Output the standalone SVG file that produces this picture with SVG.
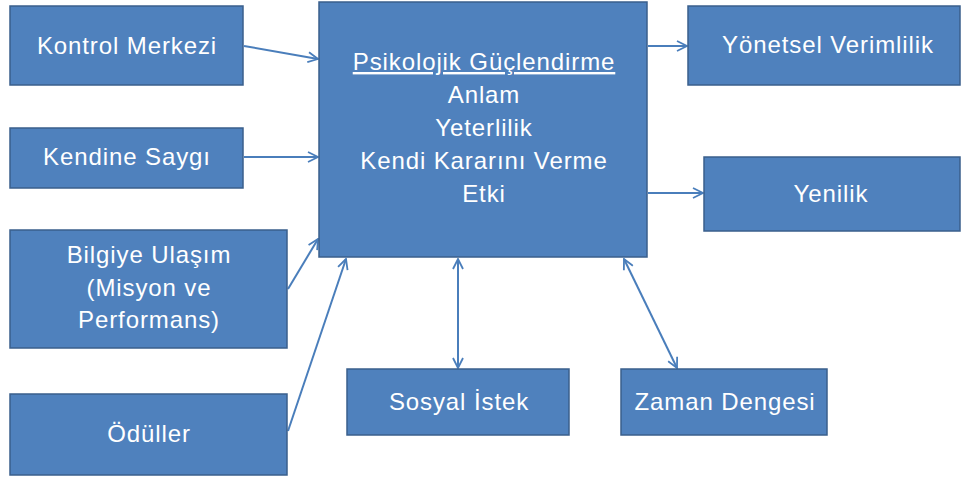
<svg xmlns="http://www.w3.org/2000/svg" width="966" height="480" viewBox="0 0 966 480">
<style>
.box{fill:#4F81BD;stroke:#3A5F8C;stroke-width:1.5}
.t{font-family:"Liberation Sans",Arial,sans-serif;font-size:24px;letter-spacing:0.9px;fill:#FFFFFF;text-anchor:middle}
.c{stroke:#4A7EBB;stroke-width:2;fill:none}
</style>
<defs>
<marker id="ah" viewBox="0 0 12 12" refX="11" refY="6" markerWidth="12" markerHeight="12" markerUnits="userSpaceOnUse" orient="auto-start-reverse">
<path d="M1,1 L11,6 L1,11" fill="none" stroke="#4A7EBB" stroke-width="1.8"/>
</marker>
</defs>
<rect width="966" height="480" fill="#FFFFFF"/>
<g id="connectors">
<line class="c" x1="244" y1="46" x2="318" y2="59" marker-end="url(#ah)"/>
<line class="c" x1="244" y1="157" x2="318" y2="157" marker-end="url(#ah)"/>
<line class="c" x1="288" y1="289" x2="318" y2="239" marker-end="url(#ah)"/>
<line class="c" x1="288" y1="431" x2="346" y2="259" marker-end="url(#ah)"/>
<line class="c" x1="458" y1="259" x2="458" y2="368" marker-start="url(#ah)" marker-end="url(#ah)"/>
<line class="c" x1="624" y1="259" x2="677" y2="368" marker-start="url(#ah)" marker-end="url(#ah)"/>
<line class="c" x1="648" y1="46" x2="687" y2="46" marker-end="url(#ah)"/>
<line class="c" x1="648" y1="193" x2="703" y2="193" marker-end="url(#ah)"/>
</g>
<g id="kontrol">
<rect class="box" x="10" y="6" width="233" height="79"/>
<text class="t" x="127" y="54">Kontrol Merkezi</text>
</g>
<g id="kendine">
<rect class="box" x="10" y="128" width="233" height="60"/>
<text class="t" x="127" y="165">Kendine Saygı</text>
</g>
<g id="bilgiye">
<rect class="box" x="10" y="230" width="277" height="118"/>
<text class="t" x="149" y="263">Bilgiye Ulaşım</text>
<text class="t" x="149" y="296">(Misyon ve</text>
<text class="t" x="149" y="328">Performans)</text>
</g>
<g id="oduller">
<rect class="box" x="10" y="394" width="277" height="81"/>
<text class="t" x="149" y="442">Ödüller</text>
</g>
<g id="psikolojik">
<rect class="box" x="319" y="2" width="328" height="255"/>
<text class="t" x="484" y="70" text-decoration="underline">Psikolojik Güçlendirme</text>
<text class="t" x="484" y="103">Anlam</text>
<text class="t" x="484" y="136">Yeterlilik</text>
<text class="t" x="484" y="169">Kendi Kararını Verme</text>
<text class="t" x="484" y="202">Etki</text>
</g>
<g id="yonetsel">
<rect class="box" x="688" y="6" width="272" height="79"/>
<text class="t" x="828" y="53">Yönetsel Verimlilik</text>
</g>
<g id="yenilik">
<rect class="box" x="704" y="157" width="256" height="74"/>
<text class="t" x="831" y="202">Yenilik</text>
</g>
<g id="sosyal">
<rect class="box" x="347" y="369" width="222" height="66"/>
<text class="t" x="459" y="410">Sosyal İstek</text>
</g>
<g id="zaman">
<rect class="box" x="621" y="369" width="206" height="66"/>
<text class="t" x="725" y="410">Zaman Dengesi</text>
</g>
</svg>
